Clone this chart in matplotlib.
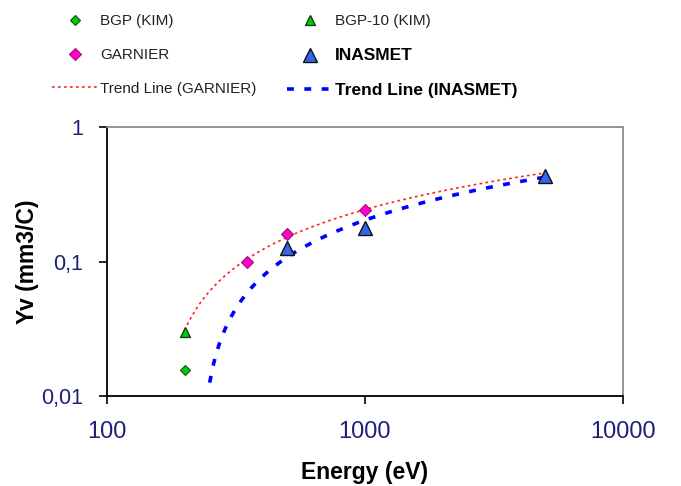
import numpy as np
import matplotlib
matplotlib.use("Agg")
import matplotlib.pyplot as plt
from matplotlib.ticker import FixedLocator, FixedFormatter, NullLocator

plt.rcParams['font.family'] = ['Liberation Sans', 'DejaVu Sans']

# ---- data ----
bgp_kim_x = [200]
bgp_kim_y = [0.0155]
bgp10_kim_x = [200]
bgp10_kim_y = [0.030]
garnier_x = [350, 500, 1000]
garnier_y = [0.100, 0.159, 0.241]
inasmet_x = [500, 1000, 5000]
inasmet_y = [0.126, 0.177, 0.432]

# trend line ranges (logarithmic fits, forecast backward like the original)
garnier_trend_range = (200, 5000)
inasmet_trend_range = (250, 5000)

x_ticks = [100, 1000, 10000]
x_tick_labels = ["100", "1000", "10000"]
y_ticks = [0.01, 0.1, 1]
y_tick_labels = ["0,01", "0,1", "1"]

W, H, DPI = 681, 486, 100
fig = plt.figure(figsize=(W / DPI, H / DPI), dpi=DPI)
ax = fig.add_axes([107 / W, 1 - 396 / H, (623 - 107) / W, (396 - 127) / H])

ax.set_xscale('log')
ax.set_yscale('log')
ax.set_xlim(100, 10000)
ax.set_ylim(0.01, 1)


def log_trend(xs, ys, rng):
    a, b = np.polyfit(np.log(xs), ys, 1)
    xx = np.geomspace(rng[0], rng[1], 300)
    return xx, a * np.log(xx) + b


gx, gy = log_trend(garnier_x, garnier_y, garnier_trend_range)
ix, iy = log_trend(inasmet_x, inasmet_y, inasmet_trend_range)

h_tg, = ax.plot(gx, gy, color='#ff2020', lw=1.2, linestyle=(0, (1.6, 2.0)),
                label='Trend Line (GARNIER)', zorder=2)
h_ti, = ax.plot(ix, iy, color='#0000ff', lw=2.6, linestyle=(0, (1.9, 2.9)),
                label='Trend Line (INASMET)', zorder=2)

h_bgp, = ax.plot(bgp_kim_x, bgp_kim_y, linestyle='none', marker='D', ms=5.5,
                 mfc='#00cc00', mec='#105010', mew=0.8, label='BGP (KIM)', zorder=4)
h_bgp10, = ax.plot(bgp10_kim_x, bgp10_kim_y, linestyle='none', marker='^', ms=7,
                   mfc='#00cc00', mec='#103010', mew=0.9, label='BGP-10 (KIM)', zorder=4)
h_gar, = ax.plot(garnier_x, garnier_y, linestyle='none', marker='D', ms=6,
                 mfc='#ff00cc', mec='#a01070', mew=0.8, label='GARNIER', zorder=5)
h_ina, = ax.plot(inasmet_x, inasmet_y, linestyle='none', marker='^', ms=10,
                 mfc='#3366ee', mec='#101010', mew=1.0, label='INASMET', zorder=4)

# axes styling
for s in ['left', 'bottom']:
    ax.spines[s].set_color('black')
    ax.spines[s].set_linewidth(1.3)
for s in ['top', 'right']:
    ax.spines[s].set_color('#8c8c8c')
    ax.spines[s].set_linewidth(1.3)

ax.xaxis.set_major_locator(FixedLocator(x_ticks))
ax.xaxis.set_major_formatter(FixedFormatter(x_tick_labels))
ax.yaxis.set_major_locator(FixedLocator(y_ticks))
ax.yaxis.set_major_formatter(FixedFormatter(y_tick_labels))
ax.xaxis.set_minor_locator(NullLocator())
ax.yaxis.set_minor_locator(NullLocator())
ax.tick_params(axis='both', which='major', direction='out', length=6, width=1.2,
               color='black', labelcolor='#20207a', labelsize=17)
ax.tick_params(axis='x', pad=12)
ax.tick_params(axis='y', pad=11, labelsize=15.5)

ax.set_xlabel('Energy (eV)', fontsize=16.5, fontweight='bold', labelpad=13)
ax.set_ylabel('Yv (mm3/C)', fontsize=16.5, fontweight='bold', labelpad=2)

handles = [h_bgp, h_gar, h_tg, h_bgp10, h_ina, h_ti]
fs = 11
fs_px = fs * DPI / 72
leg = fig.legend(handles=handles, labels=[h.get_label() for h in handles],
                 ncol=2, loc='upper left', bbox_to_anchor=(52 / W, 1 - 14 / H),
                 frameon=False, fontsize=fs, borderpad=0, borderaxespad=0,
                 handlelength=45 / fs_px, handletextpad=3 / fs_px,
                 columnspacing=31 / fs_px, labelspacing=1.3)
for t in leg.get_texts():
    if 'INASMET' in t.get_text():
        t.set_fontweight('bold')
        t.set_fontsize(12.5)
    else:
        t.set_color('#222222')

fig.savefig('out.png', dpi=DPI)
